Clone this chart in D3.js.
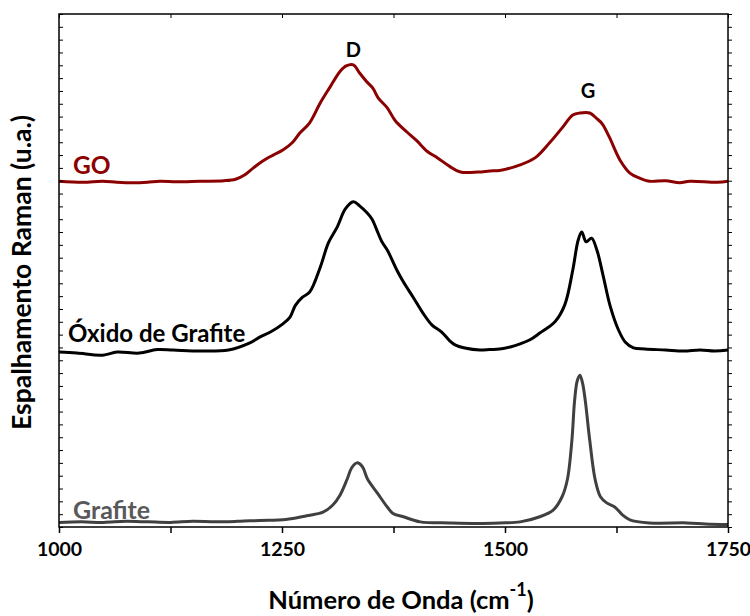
<!DOCTYPE html>
<html>
<head>
<meta charset="utf-8">
<script src="https://cdn.jsdelivr.net/npm/d3@7"></script>
<style>
  body { margin: 0; background: #fff; }
  svg text { font-family: Lato, Calibri, sans-serif; font-weight: bold; }
</style>
</head>
<body>
<div id="chart"></div>
<script>
// wavenumber (cm-1) and stacked intensity (a.u.)
const grafiteX = [1000,1025,1050,1075,1100,1125,1150,1175,1200,1214,1235,1251,1267,1281,1296,1307,1315,1323,1328,1334,1340,1346,1357,1368,1374,1386,1405,1438,1470,1494,1517,1539,1554,1564,1570,1575,1578,1581,1584,1587,1590,1595,1601,1607,1614,1623,1632,1640,1662,1704,1725,1750];
const grafiteY = [0.9,1.0,0.9,1.1,1.0,0.9,1.1,1.0,1.1,1.2,1.3,1.4,1.8,2.3,2.9,4.3,6.2,9.3,11.5,12.5,11.8,9.3,6.6,3.9,2.7,2.0,1.0,0.8,0.7,0.8,1.0,2.0,3.3,5.9,9.3,16.9,24.6,28.5,29.6,28.0,24.6,16.9,9.3,5.9,4.7,3.9,2.3,1.4,0.8,0.8,0.6,0.5];

const oxidoX = [1000,1020,1049,1065,1090,1110,1128,1158,1190,1214,1225,1237,1251,1259,1265,1273,1281,1293,1302,1312,1321,1330,1337,1345,1351,1356,1362,1368,1379,1386,1397,1408,1418,1429,1438,1444,1455,1472,1483,1494,1506,1517,1528,1539,1556,1567,1576,1582,1586,1591,1597,1603,1610,1618,1627,1635,1644,1657,1680,1700,1719,1735,1750];
const oxidoY = [34.1,33.9,33.5,34.1,33.9,34.6,34.5,34.3,34.5,35.9,37.0,38.0,39.6,40.9,43.2,44.8,45.8,50.7,55.4,58.5,62.0,63.4,62.6,61.3,60.0,58.0,55.6,54.0,50.0,47.8,44.8,41.7,39.4,38.0,36.3,35.5,34.9,34.5,34.6,34.7,35.1,35.7,36.5,37.8,40.0,43.3,50.1,55.9,57.5,55.6,56.3,54.0,49.0,43.0,38.5,36.0,34.9,34.7,34.5,34.3,34.5,34.3,34.5];

const goX = [1000,1027,1049,1065,1083,1099,1113,1132,1158,1185,1198,1208,1218,1228,1240,1251,1262,1270,1281,1293,1304,1315,1322,1330,1337,1345,1352,1358,1368,1377,1390,1401,1413,1424,1438,1450,1470,1483,1494,1517,1534,1550,1565,1576,1584,1595,1603,1609,1617,1629,1640,1651,1662,1680,1696,1707,1738,1750];
const goY = [67.4,67.2,67.4,67.2,67.1,67.2,67.4,67.3,67.4,67.5,67.8,68.6,70.0,71.3,72.5,73.5,75.0,76.8,78.8,82.7,85.8,88.8,89.9,90.1,88.5,86.8,85.5,83.6,81.7,79.2,77.0,75.3,73.2,72.0,70.3,69.2,69.2,69.4,69.5,70.6,72.0,74.9,78.0,80.3,80.7,80.7,79.6,78.6,76.0,71.5,69.0,68.0,67.4,67.5,67.1,67.4,67.2,67.4];

const xTicks = [1000, 1250, 1500, 1750];
const seriesNames = ["Grafite", "Óxido de Grafite", "GO"];
const seriesColors = ["#404040", "#000000", "#8b0000"];
const peakNames = ["D", "G"];
const peakPos = [1330, 1593];
const peakLevel = [91.6, 83.6];

const margin = {left: 59, right: 22, top: 14, bottom: 89};
const width = 750, height = 616;
const innerW = width - margin.left - margin.right;
const innerH = height - margin.top - margin.bottom;

const svg = d3.select("#chart").append("svg")
    .attr("width", width)
    .attr("height", height);
const g = svg.append("g").attr("transform", `translate(${margin.left},${margin.top})`);

const x = d3.scaleLinear().domain([1000, 1750]).range([0, innerW]);
const y = d3.scaleLinear().domain([0, 100]).range([innerH, 0]);

const line = d3.line()
    .x(d => x(d[0]))
    .y(d => y(d[1]))
    .curve(d3.curveCatmullRom.alpha(0.5));

const series = [
    d3.zip(grafiteX, grafiteY),
    d3.zip(oxidoX, oxidoY),
    d3.zip(goX, goY)
];

g.selectAll("path.spec")
    .data(series)
    .enter()
    .append("path")
    .attr("class", "spec")
    .attr("d", line)
    .attr("fill", "none")
    .attr("stroke", (d, i) => seriesColors[i])
    .attr("stroke-width", 3)
    .attr("stroke-linejoin", "round");

// axes
const minor = d3.range(1000, 1751, 125);
g.append("g")
    .attr("transform", `translate(0,${innerH})`)
    .call(d3.axisBottom(x).tickValues(minor).tickSize(6).tickFormat(d => xTicks.includes(d) ? d : ""))
    .call(a => a.select(".domain").remove())
    .call(a => a.selectAll("line").attr("stroke-width", 1.5))
    .call(a => a.selectAll("text").attr("font-size", 19.5).attr("dy", "1em").attr("fill", "#000"));
g.append("g")
    .call(d3.axisTop(x).tickValues(minor).tickSize(-4).tickFormat(""))
    .call(a => a.select(".domain").remove());
const yMinor = d3.range(0, 100.01, 2.5);
g.append("g")
    .call(d3.axisLeft(y).tickValues(yMinor).tickSize(-4).tickFormat(""))
    .call(a => a.select(".domain").remove());
g.append("g")
    .attr("transform", `translate(${innerW},0)`)
    .call(d3.axisRight(y).tickValues(yMinor).tickSize(4).tickFormat(""))
    .call(a => a.select(".domain").remove());

g.append("rect")
    .attr("width", innerW)
    .attr("height", innerH)
    .attr("fill", "none")
    .attr("stroke", "#000")
    .attr("stroke-width", 1.5);

// series labels
const labelY = [1.0, 35.0, 68.2];
const labelSize = [25, 24, 24.5];
const labelX = [14, 9, 14];
g.selectAll("text.lbl")
    .data(seriesNames)
    .enter()
    .append("text")
    .attr("class", "lbl")
    .attr("x", (d, i) => labelX[i])
    .attr("y", (d, i) => y(labelY[i]) - (i === 1 ? 5 : 3))
    .attr("fill", (d, i) => i === 0 ? "#595959" : seriesColors[i])
    .attr("font-size", (d, i) => labelSize[i])
    .text(d => d);

g.selectAll("text.peak")
    .data(peakNames)
    .enter()
    .append("text")
    .attr("class", "peak")
    .attr("x", (d, i) => x(peakPos[i]))
    .attr("y", (d, i) => y(peakLevel[i]))
    .attr("text-anchor", "middle")
    .attr("font-size", 20)
    .text(d => d);

// axis titles
const xt = svg.append("text")
    .attr("x", 401)
    .attr("y", 609)
    .attr("text-anchor", "middle")
    .attr("font-size", 25.5);
xt.append("tspan").text("Número de Onda (cm");
xt.append("tspan").attr("font-size", 18).attr("dy", -13).text("-1");
xt.append("tspan").attr("dy", 13).text(")");

svg.append("text")
    .attr("transform", `translate(31,${margin.top + innerH / 2 + 2}) rotate(-90)`)
    .attr("text-anchor", "middle")
    .attr("font-size", 26.5)
    .text("Espalhamento Raman (u.a.)");
</script>
</body>
</html>
